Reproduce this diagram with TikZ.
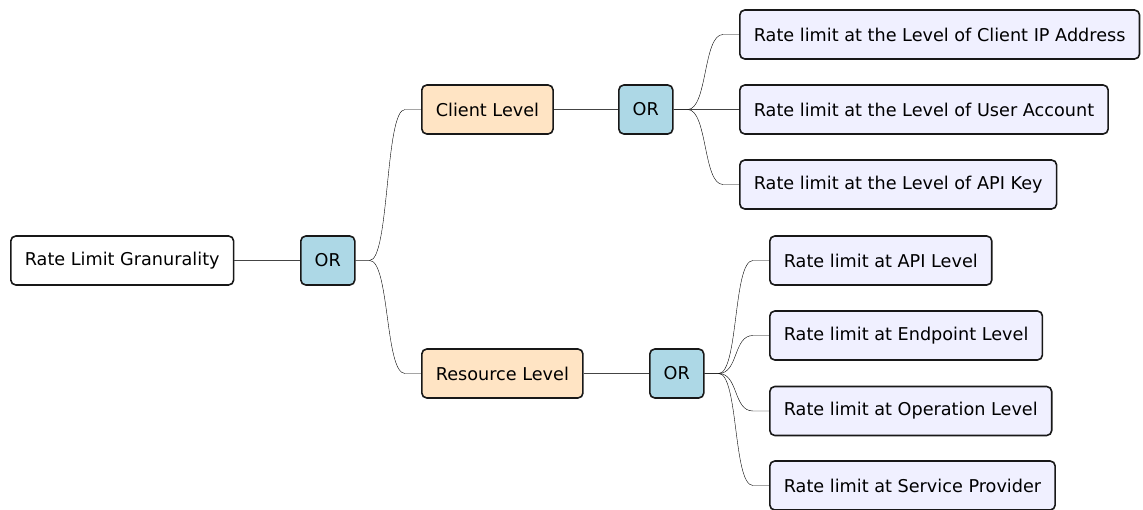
\documentclass[tikz,border=0pt]{standalone}
\usepackage{fontspec}
\setmainfont{DejaVu Sans}
\definecolor{orblue}{HTML}{ADD8E6}
\definecolor{bisq}{HTML}{FFE4C4}
\definecolor{leaf}{RGB}{240,240,255}
\definecolor{edge}{HTML}{181818}
\definecolor{conn}{HTML}{444444}
\tikzset{
  box/.style={draw=edge, line width=1.6pt, rounded corners=5pt, minimum height=49pt,
    inner xsep=14pt, anchor=west, font=\fontsize{17.65pt}{20pt}\selectfont},
  rootbox/.style={box, fill=white},
  orbox/.style={box, fill=orblue, minimum width=54pt, inner xsep=6pt},
  midbox/.style={box, fill=bisq},
  leafbox/.style={box, fill=leaf},
  link/.style={draw=conn, line width=1.4pt},
  branch/.style={link, to path={(\tikztostart) -- ([xshift=14pt]\tikztostart)
     .. controls ([xshift=34pt]\tikztostart) and ([xshift=-36pt]\tikztotarget)
     .. ([xshift=-16pt]\tikztotarget) -- (\tikztotarget)}}
}
\begin{document}
\begin{tikzpicture}[x=1pt,y=-1pt]
\useasboundingbox (0,0) rectangle (1143,510);
\node[rootbox] (root) at (10,260.5) {Rate Limit Granurality};
\node[orbox] (or1) at (300,260.5) {OR};
\node[midbox] (cl) at (421,109.5) {Client Level};
\node[orbox] (or2) at (618,109.5) {OR};
\node[leafbox] (c1) at (739,34.5) {Rate limit at the Level of Client IP Address};
\node[leafbox] (c2) at (739,109.5) {Rate limit at the Level of User Account};
\node[leafbox] (c3) at (739,184.5) {Rate limit at the Level of API Key};
\node[midbox] (rl) at (421,373.5) {Resource Level};
\node[orbox] (or3) at (649,373.5) {OR};
\node[leafbox] (r1) at (769,260.5) {Rate limit at API Level};
\node[leafbox] (r2) at (769,335.5) {Rate limit at Endpoint Level};
\node[leafbox] (r3) at (769,411) {Rate limit at Operation Level};
\node[leafbox] (r4) at (769,485.5) {Rate limit at Service Provider};
\draw[link] (root.east) -- (or1.west);
\draw (or1.east) to[branch] (cl.west);
\draw (or1.east) to[branch] (rl.west);
\draw[link] (cl.east) -- (or2.west);
\draw (or2.east) to[branch] (c1.west);
\draw[link] (or2.east) -- (c2.west);
\draw (or2.east) to[branch] (c3.west);
\draw[link] (rl.east) -- (or3.west);
\draw (or3.east) to[branch] (r1.west);
\draw (or3.east) to[branch] (r2.west);
\draw (or3.east) to[branch] (r3.west);
\draw (or3.east) to[branch] (r4.west);
\end{tikzpicture}
\end{document}
